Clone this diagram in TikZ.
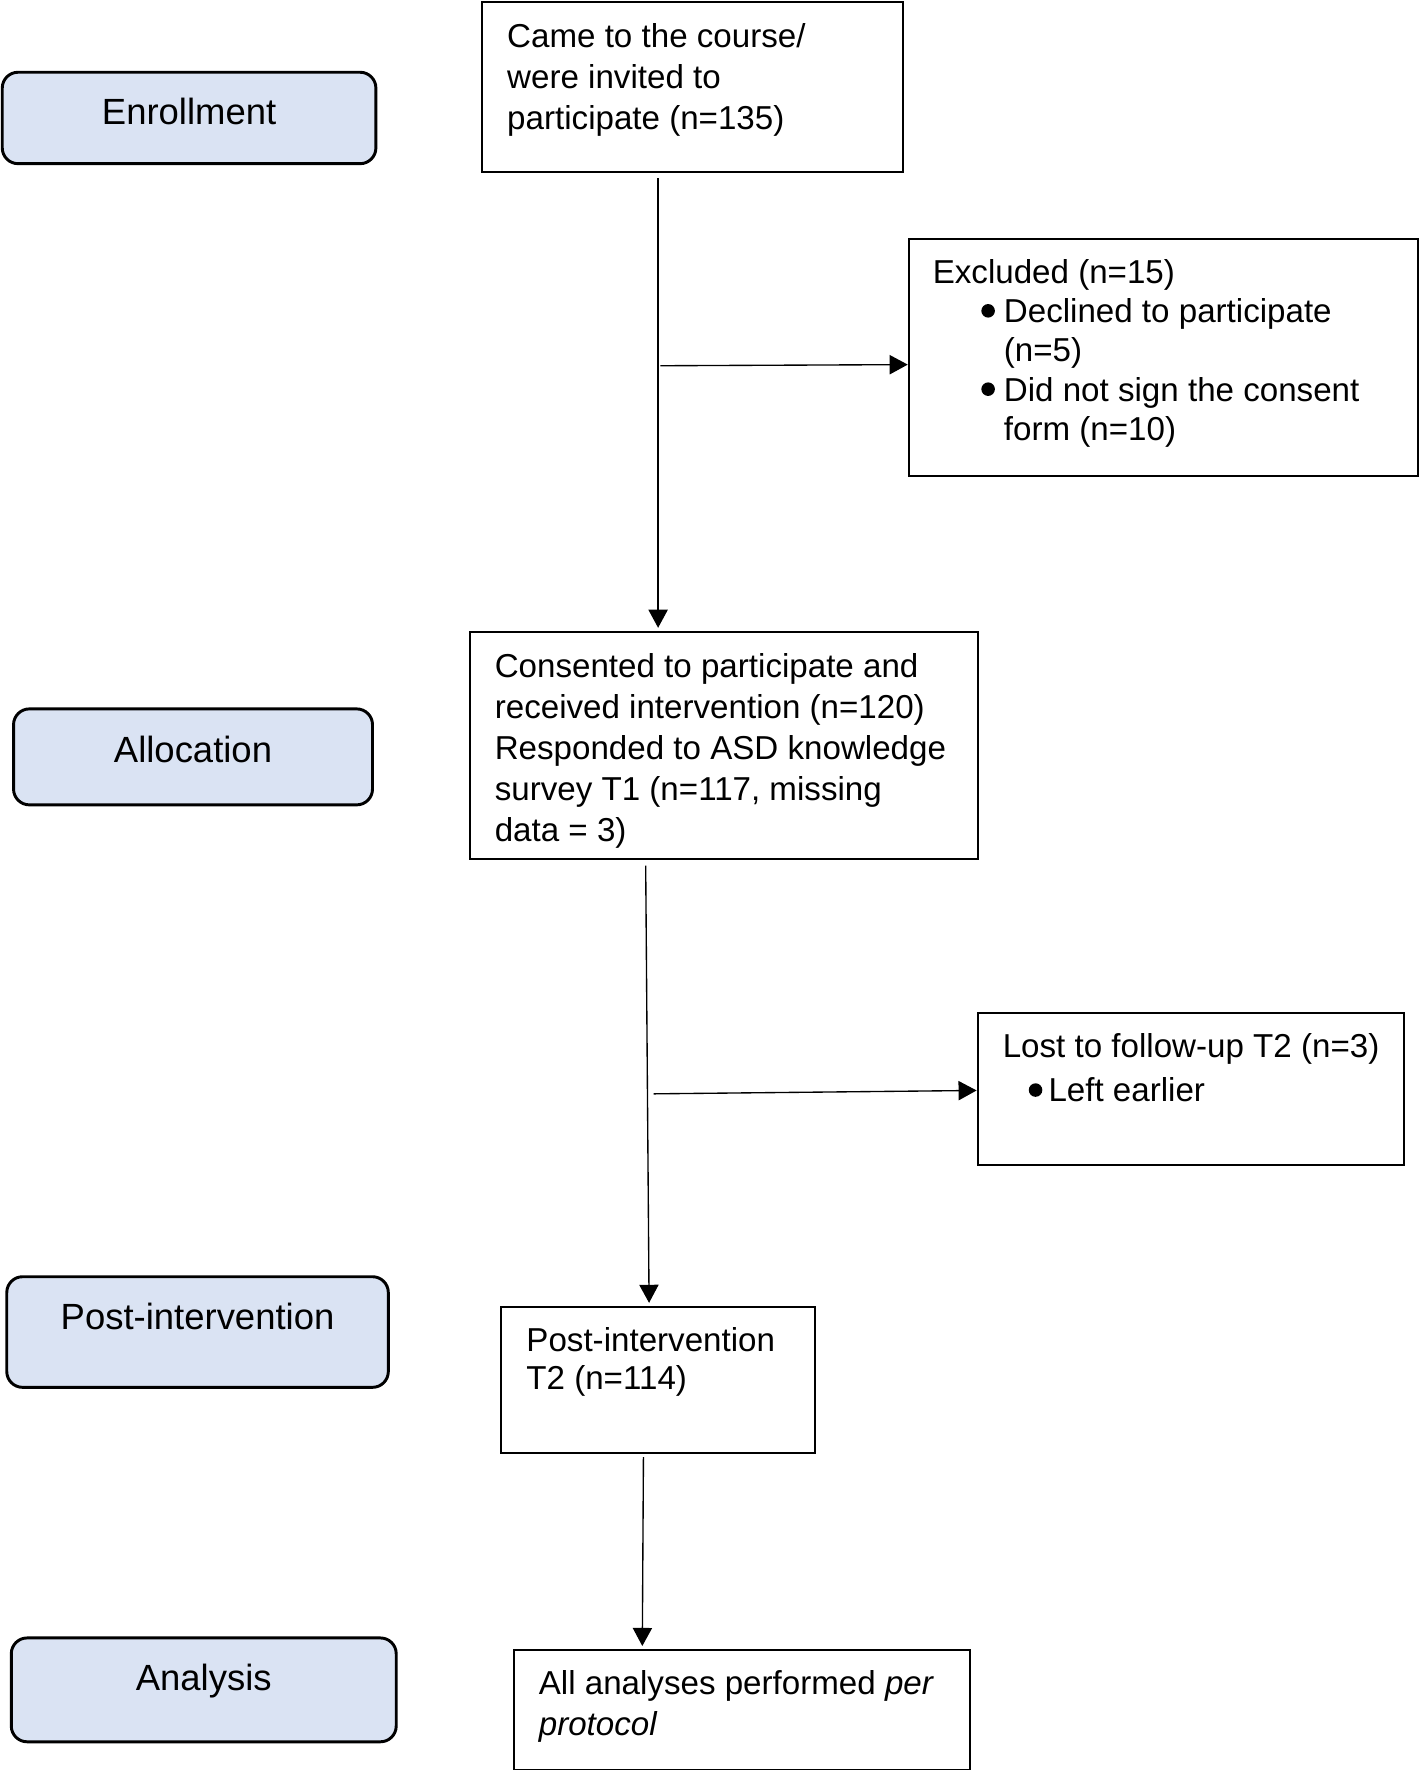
\documentclass[tikz,border=0pt]{standalone}
\usepackage{fontspec}
\setmainfont{Liberation Sans}
\usetikzlibrary{arrows.meta}
\definecolor{phasefill}{RGB}{218,227,243}
\newcommand{\blk}[1]{\begin{tabular}[t]{@{}l@{}}#1\end{tabular}}
\newcommand{\bul}{\raisebox{4.5pt}{\tikz\fill (0,0) circle (6pt);}}
\begin{document}
\begin{tikzpicture}[x=1pt,y=-1pt,
  phase/.style={draw, line width=2.6pt, rounded corners=14pt, fill=phasefill, inner sep=0pt},
  stage/.style={draw, line width=1.7pt, inner sep=0pt},
  phasetext/.style={anchor=base, inner sep=0pt, font=\fontsize{32.3}{38}\selectfont},
  stagetext/.style={anchor=base west, inner sep=0pt, font=\fontsize{29.35}{36.4}\selectfont},
  arr/.style={line width=1.2pt, -{Triangle[length=16pt,width=17pt]}}]

\useasboundingbox (0,0) rectangle (1257,1568);

% phase boxes
\node[phase, minimum width=331pt, minimum height=81pt] (enr) at (167.5,104.5) {};
\node[phasetext] (enrt) at ([yshift=-48pt]enr.north) {Enrollment};
\node[phase, minimum width=318pt, minimum height=85pt] (alo) at (171,670.5) {};
\node[phasetext] (alot) at ([yshift=-48.5pt]alo.north) {Allocation};
\node[phase, minimum width=338pt, minimum height=98pt] (post) at (175,1180) {};
\node[phasetext] (postt) at ([yshift=-48pt]post.north) {Post-intervention};
\node[phase, minimum width=341pt, minimum height=92pt] (ana) at (180.5,1497) {};
\node[phasetext] (anat) at ([yshift=-48pt]ana.north) {Analysis};

% stage boxes
\node[stage, minimum width=373pt, minimum height=150pt] (b1) at (613.5,77) {};
\node[stagetext] (b1t) at ([shift={(23pt,-40.5pt)}]b1.north west)
  {\blk{Came to the course/\\ were invited to\\ participate (n=135)}};

\node[stage, minimum width=451pt, minimum height=210pt] (exc) at (1030.5,317) {};
\node[stagetext, font=\fontsize{29.35}{34.7}\selectfont] (exct) at ([shift={(22pt,-40pt)}]exc.north west)
  {\blk{Excluded (n=15)\\
  \hspace*{43pt}\bul\hspace*{8pt}Declined to participate\\
  \hspace*{63pt}(n=5)\\
  \hspace*{43pt}\bul\hspace*{8pt}Did not sign the consent\\
  \hspace*{63pt}form (n=10)}};

\node[stage, minimum width=450pt, minimum height=201pt] (con) at (641,660.5) {};
\node[stagetext] (cont) at ([shift={(23pt,-41pt)}]con.north west)
  {\blk{Consented to participate and\\ received intervention (n=120)\\ Responded to ASD knowledge\\ survey T1 (n=117, missing\\ data = 3)}};

\node[stage, minimum width=378pt, minimum height=135pt] (lost) at (1055,964.5) {};
\node[stagetext, font=\fontsize{29.35}{39}\selectfont] (lostt) at ([shift={(23pt,-41pt)}]lost.north west)
  {\blk{Lost to follow-up T2 (n=3)\\
  \hspace*{23pt}\bul\hspace*{5.5pt}Left earlier}};

\node[stage, minimum width=278pt, minimum height=129pt] (t2) at (583,1222.5) {};
\node[stagetext, font=\fontsize{29.35}{34}\selectfont] (t2t) at ([shift={(23pt,-40pt)}]t2.north west)
  {\blk{Post-intervention\\ T2 (n=114)}};

\node[stage, minimum width=404pt, minimum height=106pt] (all) at (657,1515) {};
\node[stagetext] (allt) at ([shift={(23pt,-40pt)}]all.north west)
  {\blk{All analyses performed \textit{per}\\ \textit{protocol}}};

% connectors
\draw[arr] ([shift={(-30.5pt,-5pt)}]b1.south) -- ([shift={(-58pt,3pt)}]con.north);
\coordinate (c1) at (585,324);
\draw[arr] (c1) -- ([yshift=-6pt]exc.west);
\draw[arr] ([shift={(-69pt,-5pt)}]con.south) -- ([shift={(-8pt,3pt)}]t2.north);
\coordinate (c2) at (579,969);
\draw[arr] (c2) -- ([yshift=-1.5pt]lost.west);
\draw[arr] ([shift={(-13pt,-3pt)}]t2.south) -- ([shift={(-88pt,3pt)}]all.north);
\end{tikzpicture}
\end{document}
